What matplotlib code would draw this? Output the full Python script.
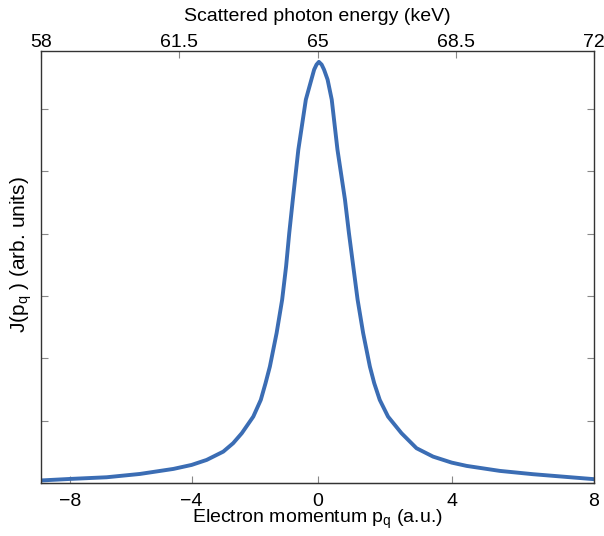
import matplotlib
matplotlib.use('Agg')
import matplotlib.pyplot as plt

plt.rcParams['font.family'] = ['Liberation Sans', 'DejaVu Sans']
plt.rcParams['mathtext.default'] = 'regular'

# curve: scattered photon energy (keV) vs J(p_q)
energy = [58.0, 58.73, 59.66, 60.50, 61.35, 61.81, 62.19, 62.61, 62.86, 63.08,
          63.37, 63.56, 63.68, 63.79, 63.96, 64.10, 64.20, 64.28, 64.37, 64.51,
          64.70, 64.84, 64.91, 64.97, 65.03,
          65.10, 65.16, 65.25, 65.355, 65.50, 65.69, 65.79, 65.90, 66.01,
          66.15, 66.32, 66.43, 66.57, 66.78, 67.12, 67.50, 67.92, 68.39, 68.77,
          69.61, 70.45, 71.30, 72.0]
J = [0.040, 0.064, 0.091, 0.144, 0.225, 0.289, 0.369, 0.502, 0.637, 0.798,
     1.064, 1.332, 1.600, 1.867, 2.403, 2.937, 3.472, 4.008, 4.543, 5.345,
     6.148, 6.469, 6.629, 6.709, 6.753,
     6.709, 6.629, 6.469, 6.148, 5.345, 4.543, 4.008, 3.472, 2.937,
     2.403, 1.867, 1.600, 1.332, 1.064, 0.798, 0.557, 0.422, 0.326, 0.273,
     0.193, 0.140, 0.096, 0.060]

energy_ticks = [58, 61.5, 65, 68.5, 72]
energy_labels = ['58', '61.5', '65', '68.5', '72']
# electron momentum ticks, placed at the matching photon energy
mom_tick_energy = [58.73, 61.81, 65.0, 68.39, 71.98]
mom_labels = ['\u22128', '\u22124', '0', '4', '8']
y_ticks = [0, 1, 2, 3, 4, 5, 6]

fig = plt.figure(figsize=(6.04, 5.36), dpi=100)
ax = fig.add_axes([0.068, 0.099, 0.916, 0.805])

ax.plot(energy, J, color='#3b6db4', lw=2.8, solid_capstyle='round')
ax.set_xlim(58, 72)
ax.set_ylim(0, 6.92)

for s in ax.spines.values():
    s.set_color('#333333')
    s.set_linewidth(1.0)

ax.xaxis.set_ticks_position('top')
ax.xaxis.set_label_position('top')
ax.set_xticks(energy_ticks)
ax.set_xticklabels(energy_labels)
ax.tick_params(axis='x', direction='in', length=5, width=0.8, color='#888888',
               labelsize=14, pad=0)
ax.set_xlabel('Scattered photon energy (keV)', fontsize=14, labelpad=9.5)

ax.set_yticks(y_ticks)
ax.set_yticklabels([])
ax.tick_params(axis='y', direction='in', length=5, width=0.8, color='#888888',
               left=True, right=True)
ax.set_ylabel('J(p$_q$ ) (arb. units)', fontsize=15)
ax.yaxis.set_label_coords(-0.012, 0.529)

sec = ax.secondary_xaxis('bottom', functions=(lambda x: x, lambda x: x))
sec.set_xticks(mom_tick_energy)
sec.set_xticklabels(mom_labels)
sec.tick_params(direction='in', length=5, width=0.8, color='#888888',
                labelsize=14, pad=7)
sec.spines['bottom'].set_color('#333333')
sec.set_xlabel('Electron momentum p$_q$ (a.u.)', fontsize=14, labelpad=-1.5)

fig.savefig('out.png', dpi=100)
